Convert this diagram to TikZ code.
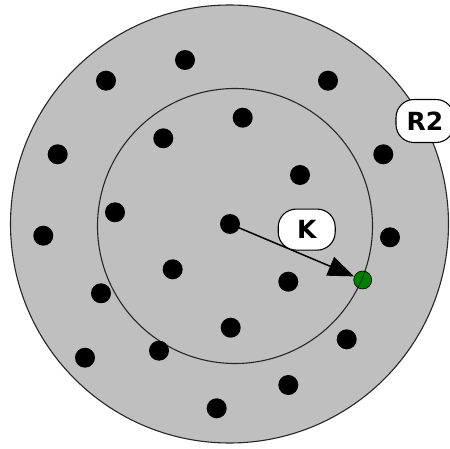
\documentclass[tikz,border=0pt]{standalone}
\usepackage{fontspec}
\setmainfont{DejaVu Sans}
\usetikzlibrary{arrows.meta}
\begin{document}
\begin{tikzpicture}[x=1pt,y=-1pt,
  ring/.style={draw=black!85,line width=1.1pt},
  dot/.style={circle,fill=black,inner sep=0pt,minimum size=20pt},
  gdot/.style={circle,fill=green!50!black,draw=black,line width=0.6pt,inner sep=0pt,minimum size=18pt},
  tag/.style={draw=black,line width=1.1pt,fill=white,rounded corners=18pt,inner sep=0pt,font=\bfseries\fontsize{25}{27}\selectfont}]
\useasboundingbox (0,0) rectangle (450,449);
\fill[gray!50] (229.5,224) circle (219);
\draw[ring] (229.5,224) circle (219);
\draw[ring] (235,226) circle (137.5);
\node[dot] (d1) at (185,60) {};
\node[dot] (d2) at (106,80.7) {};
\node[dot] (d3) at (328,80.7) {};
\node[dot] (d4) at (242.7,117.7) {};
\node[dot] (d5) at (163.3,138.3) {};
\node[dot] (d6) at (57.7,154.3) {};
\node[dot] (d7) at (383.3,154.3) {};
\node[dot] (d8) at (300,175) {};
\node[dot] (d9) at (115,212.3) {};
\node[dot] (c) at (230,224) {};
\node[dot] (d10) at (43.3,235.7) {};
\node[dot] (d11) at (390,237.3) {};
\node[dot] (d12) at (172.7,269.3) {};
\node[dot] (d13) at (288.3,281.7) {};
\node[dot] (d14) at (101,293.3) {};
\node[dot] (d15) at (230.7,327.7) {};
\node[dot] (d16) at (346.7,339.3) {};
\node[dot] (d17) at (85,357.7) {};
\node[dot] (d18) at (159,350.7) {};
\node[dot] (d19) at (288.3,385) {};
\node[dot] (d20) at (216.7,408.3) {};
\node[gdot] (g) at (362.7,280) {};
\begin{scope}
\clip (362.7,280) circle (9);
\draw[ring,line width=0.8pt] (235,226) circle (137.5);
\end{scope}
\draw[line width=1.5pt,-{Triangle[length=26pt,width=20pt]}] (c.center) -- (g);
\node[tag,minimum width=57pt,minimum height=41pt] (k) at (306.7,229.6) {K};
\node[tag,minimum width=58pt,minimum height=43pt] (r2) at (425,121) {R2};
\end{tikzpicture}
\end{document}
